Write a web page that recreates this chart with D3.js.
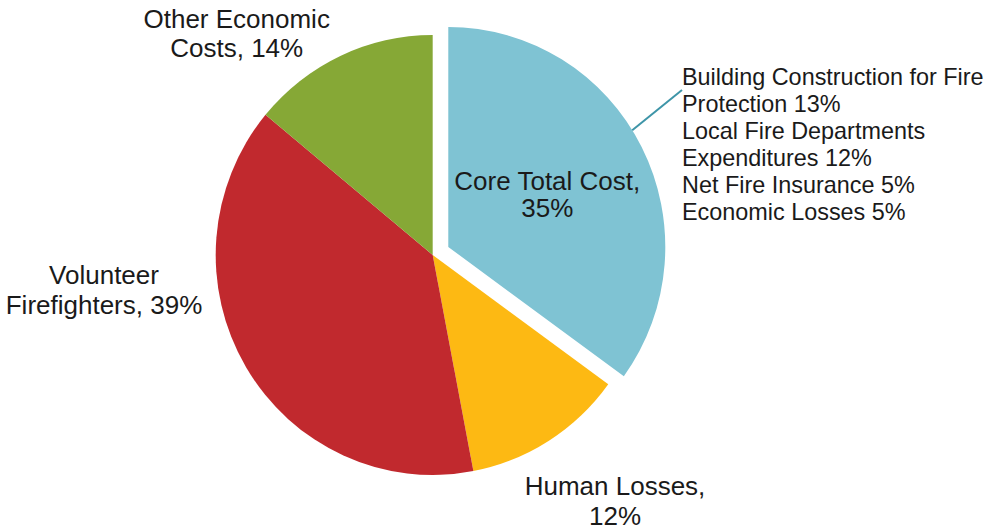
<!DOCTYPE html>
<html>
<head>
<meta charset="utf-8">
<script src="https://cdn.jsdelivr.net/npm/d3@7"></script>
<style>
  html, body { margin: 0; padding: 0; background: #ffffff; }
  svg { display: block; }
  text { font-family: "Liberation Sans", Arial, sans-serif; fill: #1a1a1a; }
</style>
</head>
<body>
<svg id="chart" width="989" height="530"></svg>
<script>
// Cost categories (percent of total), in clockwise order from 12 o'clock
const categories = ["Core Total Cost", "Human Losses", "Volunteer Firefighters", "Other Economic Costs"];
const shares = [35, 12, 39, 14];
const colors = ["#7fc3d3", "#fdb913", "#c1292e", "#86a836"];
// Label text for each slice, one entry per line
const sliceLabels = [
  ["Core Total Cost,", "35%"],
  ["Human Losses,", "12%"],
  ["Volunteer", "Firefighters, 39%"],
  ["Other Economic", "Costs, 14%"]
];
// Breakdown of the core cost slice
const coreItems = ["Building Construction for Fire", "Protection 13%", "Local Fire Departments",
                   "Expenditures 12%", "Net Fire Insurance 5%", "Economic Losses 5%"];

const svg = d3.select("#chart");

// Pie layout
const cx = 432.7, cy = 255, r = 217, yStretch = 220 / 217;
const explode = 17.5;

const pie = d3.pie().sort(null).value(d => d.value);
const arcs = pie(categories.map((c, i) => ({ name: c, value: shares[i], color: colors[i] })));
const arc = d3.arc().innerRadius(0).outerRadius(r);

const g = svg.append("g")
  .attr("transform", `translate(${cx},${cy}) scale(1,${yStretch})`);

// The core slice is pulled out along its bisector
function offset(d) {
  if (d.index !== 0) return [0, 0];
  const mid = (d.startAngle + d.endAngle) / 2;
  return [Math.sin(mid) * explode, -Math.cos(mid) * explode];
}

g.selectAll("path.slice")
  .data(arcs)
  .join("path")
  .attr("class", "slice")
  .attr("d", arc)
  .attr("fill", d => d.data.color)
  .attr("transform", d => { const o = offset(d); return `translate(${o[0]},${o[1]})`; });

// Leader line from the core slice edge to its breakdown list
const core = arcs[0];
const co = offset(core);
const leadAngle = core.startAngle + (core.endAngle - core.startAngle) * 0.46;
const lx0 = cx + co[0] + Math.sin(leadAngle) * r;
const ly0 = cy + (co[1] - Math.cos(leadAngle) * r) * yStretch;
const listX = 682, listY0 = 85, listStep = 27;

svg.append("line")
  .attr("x1", lx0).attr("y1", ly0)
  .attr("x2", listX).attr("y2", listY0 + 5)
  .attr("stroke", "#3e95a8")
  .attr("stroke-width", 2);

svg.append("g").selectAll("text")
  .data(coreItems)
  .join("text")
  .attr("x", listX)
  .attr("y", (d, i) => listY0 + i * listStep)
  .attr("font-size", 23.4)
  .text(d => d);

// Slice labels
const labelPos = [
  { x: 547.3, y: 189.5, step: 27.5 },
  { x: 615, y: 495, step: 30 },
  { x: 104, y: 284, step: 30 },
  { x: 236.7, y: 27.5, step: 29 }
];

sliceLabels.forEach((lines, i) => {
  const p = labelPos[i];
  const t = svg.append("text")
    .attr("text-anchor", "middle")
    .attr("font-size", 26);
  lines.forEach((ln, j) => {
    t.append("tspan").attr("x", p.x).attr("y", p.y + j * p.step).text(ln);
  });
});
</script>
</body>
</html>
